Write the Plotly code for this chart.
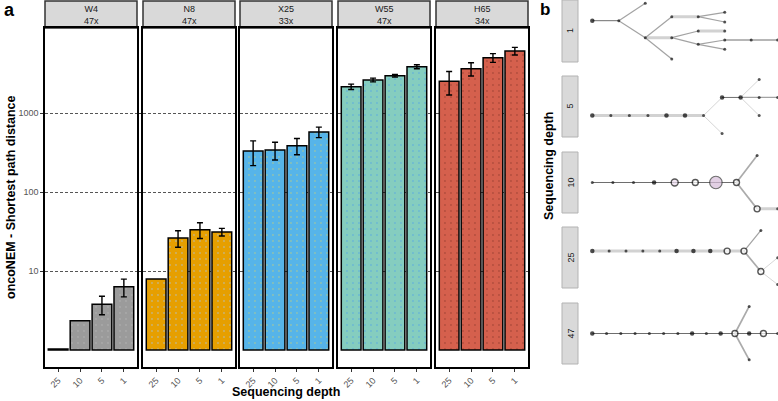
import plotly.graph_objects as go

W, H = 778, 401

# ---------------- panel a data ----------------
samples = ["W4", "N8", "X25", "W55", "H65"]
coverage = ["47x", "47x", "33x", "47x", "34x"]
depths = ["25", "10", "5", "1"]
dist_W4 = [1.03, 2.35, 3.8, 6.3]
dist_N8 = [7.95, 26.2, 33.3, 31.2]
dist_X25 = [330, 340, 386, 575]
dist_W55 = [2150, 2620, 2965, 3850]
dist_H65 = [2520, 3630, 5010, 6100]
sd_W4 = [0, 0, 1.0, 1.6]
sd_N8 = [0, 6.2, 7.5, 3.4]
sd_X25 = [114, 86, 90, 87]
sd_W55 = [170, 140, 115, 225]
sd_H65 = [830, 690, 640, 670]
dists = [dist_W4, dist_N8, dist_X25, dist_W55, dist_H65]
sds = [sd_W4, sd_N8, sd_X25, sd_W55, sd_H65]
fills = ["#9b9b9b", "#E69F00", "#56B4E9", "#85CDBF", "#D5604D"]
specks = ["#b8b8b8", "#a9c6ea", "#c4cf7a", "#4fa2ea", "#8e3a2b"]

# ---------------- panel b data (tree layouts: level, vertical offset) ----------------
tree_labels = ["1", "5", "10", "25", "47"]
t1_level = [0, 1, 2, 2, 3, 3, 3, 4, 5, 5, 4, 5, 4, 5, 5, 6, 7]
t1_off = [-10.3, -10.3, -27.7, 6.7, 28, -14.3, 6.7, -14.3, -18.7, -9, 0, 0, 13.3, 9, 18.3, 9, 9]
t1_kind = ["big"] + ["dot"] * 16
t1_edges = [(0, 1, "d"), (1, 2, "m"), (1, 3, "m"), (3, 4, "m"), (3, 5, "m"), (3, 6, "w"),
            (5, 7, "w"), (7, 8, "m"), (7, 9, "m"), (6, 10, "m"), (10, 11, "w"), (6, 12, "m"),
            (12, 13, "m"), (12, 14, "m"), (13, 15, "d"), (15, 16, "d")]

t5_level = [0, 1, 2, 3, 4, 5, 6, 7, 7, 8, 9, 9, 9, 10]
t5_off = [9.2] * 7 + [-9.2, 27.5, -9.2, -27.5, -9.2, 9.2, -9.2]
t5_kind = ["big", "dot", "dot", "dot", "big", "big", "dot", "big", "dot", "big", "dot", "dot", "dot", "dot"]
t5_edges = [(0, 1, "w"), (1, 2, "w"), (2, 3, "w"), (3, 4, "w"), (4, 5, "w"), (5, 6, "w"),
            (6, 7, "l"), (6, 8, "l"), (7, 9, "d"), (9, 10, "l"), (9, 11, "m"), (9, 12, "l"), (11, 13, "m")]

t10_level = [0, 1, 2, 3, 4, 5, 6, 7, 8, 8, 9]
t10_off = [0] * 8 + [-27.5, 26.8, 26.8]
t10_kind = ["dot", "dot", "dot", "big", "ringpink", "ring", "blob", "ring", "dot", "ring", "dot"]
t10_edges = [(0, 1, "d"), (1, 2, "d"), (2, 3, "d"), (3, 4, "d"), (4, 5, "d"), (5, 6, "d"), (6, 7, "d"),
             (7, 8, "g"), (7, 9, "g"), (9, 10, "w")]

t25_level = [0, 1, 2, 3, 4, 5, 6, 7, 8, 9, 10, 10, 11, 11]
t25_off = [-6.5] * 10 + [-27.5, 14.2, 0.2, 27.5]
t25_kind = ["big", "dot", "dot", "dot", "dot", "big", "big", "big", "ring", "ring", "dot", "ring", "dot", "dot"]
t25_edges = [(i, i + 1, "w") for i in range(9)] + [(9, 10, "m"), (9, 11, "g"), (11, 12, "l"), (11, 13, "l")]

t47_level = list(range(14)) + [11, 11]
t47_off = [0] * 14 + [-27.5, 26.8]
t47_kind = ["big"] + ["dot"] * 6 + ["big", "dot", "big", "ring", "big", "ring", "dot", "dot", "dot"]
t47_edges = [(i, i + 1, "d") for i in range(13)] + [(10, 14, "g"), (10, 15, "g")]

trees = [(t1_level, t1_off, t1_kind, t1_edges), (t5_level, t5_off, t5_kind, t5_edges),
         (t10_level, t10_off, t10_kind, t10_edges), (t25_level, t25_off, t25_kind, t25_edges),
         (t47_level, t47_off, t47_kind, t47_edges)]

edge_style = {"w": ("#d2d2d2", 3), "m": ("#a3a3a3", 1.2), "d": ("#6e6e6e", 1.0),
              "l": ("#d6d6d6", 1), "g": ("#ababab", 1.7)}
node_style = {"dot": (3, "#111111", "#111111", 0), "big": (4.5, "#000000", "#000000", 0),
              "ring": (6, "white", "#111111", 1.4), "ringpink": (7, "#ecdcee", "#111111", 1.4),
              "blob": (12.5, "#d6bdda", "#333333", 1.2)}


def px(x):
    return x / W


def py(y):
    return 1 - y / H


def label(x, y, text, font, angle=0):
    return dict(xref="paper", yref="paper", x=px(x), y=py(y), text=text, textangle=angle,
                showarrow=False, xanchor="center", yanchor="middle", font=font)


fig = go.Figure()
layout = {}
shapes = []
annotations = []
small = dict(size=9, color="#1a1a1a", family="Liberation Sans")

# panel a facets (pixel extents)
panel_x = [(45, 137), (143, 235), (240, 332), (338, 430), (436, 528)]
top, bottom = 28, 367

for i, s in enumerate(samples):
    xa = "x" if i == 0 else "x%d" % (i + 1)
    fig.add_trace(go.Bar(
        x=depths, y=[v - 1 for v in dists[i]], base=[1] * 4, xaxis=xa, yaxis="y",
        width=0.9, showlegend=False,
        marker=dict(color=fills[i], line=dict(color="black", width=1.5),
                    pattern=dict(shape=".", fgcolor=specks[i], size=6, solidity=0.08))))
    fig.add_trace(go.Scatter(
        x=[d for d, e in zip(depths, sds[i]) if e > 0],
        y=[v for v, e in zip(dists[i], sds[i]) if e > 0],
        xaxis=xa, yaxis="y", mode="markers", marker=dict(size=1, opacity=0), showlegend=False,
        error_y=dict(type="data", array=[e for e in sds[i] if e > 0], color="black",
                     thickness=1.4, width=3)))
    x0, x1 = panel_x[i]
    layout["xaxis" if i == 0 else "xaxis%d" % (i + 1)] = dict(
        domain=[px(x0), px(x1)], anchor="y", type="category", categoryorder="array",
        categoryarray=depths, range=[-0.6, 3.6], showline=True, mirror=True,
        linecolor="black", linewidth=1.5, ticks="outside", ticklen=3, tickcolor="#333",
        tickangle=-45, tickfont=dict(size=9, color="#555", family="Liberation Sans"),
        showgrid=False, zeroline=False, fixedrange=True)
    shapes.append(dict(type="rect", xref="paper", yref="paper", x0=px(x0), x1=px(x1),
                       y0=py(top), y1=py(1), fillcolor="#d9d9d9",
                       line=dict(color="#333", width=1.5), layer="below"))
    annotations.append(label((x0 + x1) / 2, 14.5, s + "<br>" + coverage[i], small))

layout["yaxis"] = dict(
    domain=[py(bottom), py(top)], anchor="x", type="log", range=[-0.215, 4.076],
    tickvals=[10, 100, 1000], ticktext=["10", "100", "1000"], showgrid=True,
    gridcolor="#555", griddash="3px,2px", gridwidth=0.7, zeroline=False, showline=True,
    mirror="all", linecolor="black", linewidth=1.5, ticks="outside", ticklen=3, tickcolor="#333",
    tickfont=dict(size=9, color="#555", family="Liberation Sans"), fixedrange=True)

# panel b trees
boxes = [(0, 62), (76, 137), (152, 213), (227, 288), (303, 364)]
for k, (lev, off, kind, edges) in enumerate(trees):
    n = 6 + k
    xa, ya = "x%d" % n, "y%d" % n
    for st in edge_style:
        ex, ey = [], []
        for a, b, s in edges:
            if s == st:
                ex += [lev[a], lev[b], None]
                ey += [off[a], off[b], None]
        if ex:
            col, wd = edge_style[st]
            fig.add_trace(go.Scatter(x=ex, y=ey, xaxis=xa, yaxis=ya, mode="lines",
                                     line=dict(color=col, width=wd), showlegend=False,
                                     hoverinfo="skip", cliponaxis=False))
    fig.add_trace(go.Scatter(
        x=lev, y=off, xaxis=xa, yaxis=ya, mode="markers", showlegend=False, cliponaxis=False,
        marker=dict(size=[node_style[t][0] for t in kind], color=[node_style[t][1] for t in kind],
                    line=dict(color=[node_style[t][2] for t in kind],
                              width=[node_style[t][3] for t in kind]))))
    b0, b1 = boxes[k]
    layout["xaxis%d" % n] = dict(domain=[px(592.3), px(777.7)], anchor=ya, range=[0, max(lev)],
                                 visible=False, fixedrange=True)
    layout["yaxis%d" % n] = dict(domain=[py(b1), py(b0)], anchor=xa, range=[31, -31],
                                 visible=False, fixedrange=True)
    shapes.append(dict(type="rect", xref="paper", yref="paper", x0=px(562), x1=px(578),
                       y0=py(b1), y1=py(b0), fillcolor="#d9d9d9",
                       line=dict(color="#b3b3b3", width=1)))
    annotations.append(label(570, (b0 + b1) / 2, tree_labels[k], small, -90))

bold = dict(size=12.5, color="black", family="Liberation Sans")
annotations += [
    label(11, 197, "<b>oncoNEM - Shortest path distance</b>", bold, -90),
    label(286, 392, "<b>Sequencing depth</b>", bold),
    label(549, 166, "<b>Sequencing depth</b>", bold, -90),
    label(9, 10, "<b>a</b>", dict(size=18, color="black", family="Liberation Sans")),
    label(545, 9, "<b>b</b>", dict(size=17, color="black", family="Liberation Sans")),
]

fig.update_layout(width=W, height=H, margin=dict(l=0, r=0, t=0, b=0), paper_bgcolor="white",
                  plot_bgcolor="white", shapes=shapes, annotations=annotations, bargap=0.1,
                  **layout)
fig.write_html("out.html", config={"displayModeBar": False},
               post_script="document.body.style.margin='0';")
